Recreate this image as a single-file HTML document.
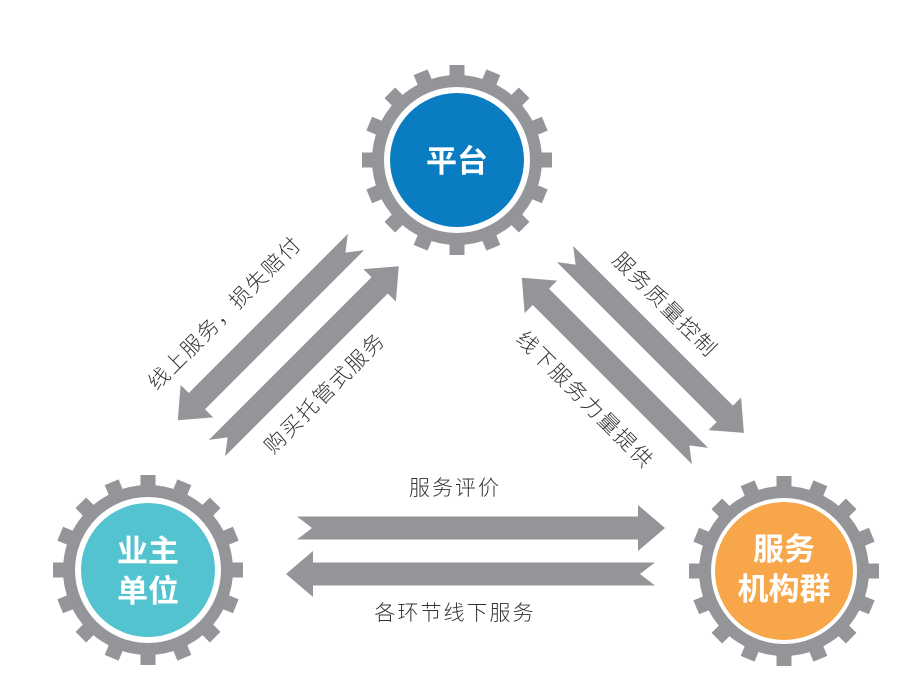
<!DOCTYPE html>
<html><head><meta charset="utf-8"><style>
html,body{margin:0;padding:0;background:#fff;width:903px;height:699px;overflow:hidden}
svg text{font-family:"Liberation Sans","Noto Sans CJK SC",sans-serif}
.lb{font-size:21px;fill:#333;font-weight:300;letter-spacing:2px}
.gt{font-size:31px;fill:#fff;font-weight:bold}
</style></head><body>
<svg width="903" height="699" viewBox="0 0 903 699" xmlns="http://www.w3.org/2000/svg">
<defs>
<g id="gear" fill="#939598">
<circle r="85"/>
<g id="t4"><rect x="-7.5" y="-95" width="15" height="20"/><rect x="-7.5" y="-95" width="15" height="20" transform="rotate(90)"/><rect x="-7.5" y="-95" width="15" height="20" transform="rotate(180)"/><rect x="-7.5" y="-95" width="15" height="20" transform="rotate(270)"/></g>
<use href="#t4" transform="rotate(22.5)"/>
<use href="#t4" transform="rotate(45)"/>
<use href="#t4" transform="rotate(67.5)"/>
<circle r="73" fill="#fff"/>
</g>
<polygon id="arr" fill="#939598" points="0,-11.5 -300,-11.5 -300,-23 0,0"/>
</defs>

<!-- gears -->
<use href="#gear" transform="translate(457,160)"/>
<circle cx="457" cy="160" r="67" fill="#0a7dc2"/>
<text class="gt" x="457" y="172" text-anchor="middle">平台</text>

<use href="#gear" transform="translate(148,570)"/>
<circle cx="148" cy="570" r="67" fill="#52c3cf"/>
<text class="gt" x="148" y="562" text-anchor="middle">业主</text>
<text class="gt" x="148" y="602" text-anchor="middle">单位</text>

<use href="#gear" transform="translate(784,571)"/>
<circle cx="784" cy="571" r="69" fill="#f7a649"/>
<text class="gt" x="784" y="560" text-anchor="middle">服务</text>
<text class="gt" x="784" y="600" text-anchor="middle">机构群</text>

<!-- arrows: local coords tail at 0, tip at L -->
<g fill="#939598">
<!-- top horizontal -->
<polygon transform="translate(297,528)" points="0,-11.5 341,-11.5 341,-23 368,0 341,23 341,11.5 0,11.5 15,0"/>
<!-- bottom horizontal -->
<polygon transform="translate(655,574) rotate(180)" points="0,-11.5 342,-11.5 342,-23 369,0 342,23 342,11.5 0,11.5 15,0"/>
<!-- left upper: 线上服务 -->
<polygon transform="translate(356,242) rotate(135)" points="0,-11.5 225,-11.5 225,-23 252,0 225,23 225,11.5 0,11.5 15,0"/>
<!-- left lower: 购买 -->
<polygon transform="translate(217,448) rotate(-45)" points="0,-11.5 230,-11.5 230,-23 257,0 230,23 230,11.5 0,11.5 15,0"/>
<!-- right upper: 服务质量控制 -->
<polygon transform="translate(565,254) rotate(45)" points="0,-11.5 226,-11.5 226,-23 253,0 226,23 226,11.5 0,11.5 15,0"/>
<!-- right lower: 线下服务力量提供 -->
<polygon transform="translate(700,456) rotate(-135)" points="0,-11.5 225,-11.5 225,-23 252,0 225,23 225,11.5 0,11.5 15,0"/>
</g>

<!-- labels -->
<text class="lb" x="455" y="495" text-anchor="middle">服务评价</text>
<text class="lb" x="455" y="620" text-anchor="middle">各环节线下服务</text>
<text class="lb" text-anchor="middle" transform="translate(230,318) rotate(-45)">线上服务，损失赔付</text>
<text class="lb" text-anchor="middle" transform="translate(330,398) rotate(-45)">购买托管式服务</text>
<text class="lb" text-anchor="middle" transform="translate(660,310) rotate(45)">服务质量控制</text>
<text class="lb" text-anchor="middle" transform="translate(580,405) rotate(45)">线下服务力量提供</text>
</svg>
</body></html>
